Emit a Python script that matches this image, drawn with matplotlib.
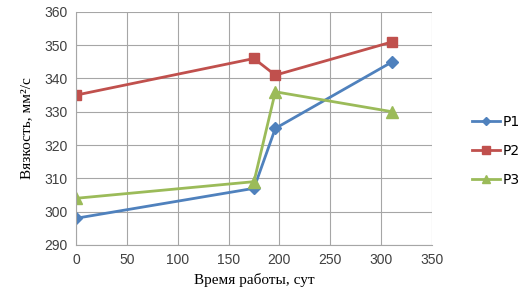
import matplotlib
matplotlib.use("Agg")
import matplotlib.pyplot as plt

time_days = [0, 175, 196, 311]
p1 = [298, 307, 325, 345]
p2 = [335, 346, 341, 351]
p3 = [304, 309, 336, 330]
series_names = ["P1", "P2", "P3"]

color_p1 = "#4F81BD"
color_p2 = "#C0504D"
color_p3 = "#9BBB59"

fig = plt.figure(figsize=(5.28, 3.05), dpi=100)
ax = fig.add_axes([0.144, 0.197, 0.674, 0.764])

ax.plot(time_days, p1, color=color_p1, lw=2.0, marker="D", ms=6, label=series_names[0])
ax.plot(time_days, p2, color=color_p2, lw=2.0, marker="s", ms=7.5, label=series_names[1])
ax.plot(time_days, p3, color=color_p3, lw=2.0, marker="^", ms=8, label=series_names[2])

ax.set_xlim(0, 350)
ax.set_ylim(290, 360)
ax.set_xticks(range(0, 351, 50))
ax.set_yticks(range(290, 361, 10))
ax.grid(True, color="#A6A6A6", lw=0.8)
ax.set_axisbelow(True)
for side in ["top", "right"]:
    ax.spines[side].set_visible(False)
for side in ["left", "bottom"]:
    ax.spines[side].set_color("#A6A6A6")
ax.tick_params(length=0, labelsize=10, labelcolor="#404040", pad=6)
for lab in ax.get_xticklabels() + ax.get_yticklabels():
    lab.set_family("Liberation Sans")

ax.set_xlabel("Время работы, сут", fontsize=11, family="Liberation Serif", labelpad=4)
ax.set_ylabel("Вязкость, мм²/с", fontsize=11, family="Liberation Serif", labelpad=8)

fig.legend(loc="center left", bbox_to_anchor=(0.87, 0.505), frameon=False,
           fontsize=10, handlelength=2.0, labelspacing=1.1, handletextpad=0.2,
           markerscale=0.7)

fig.savefig("out.png", dpi=100)
